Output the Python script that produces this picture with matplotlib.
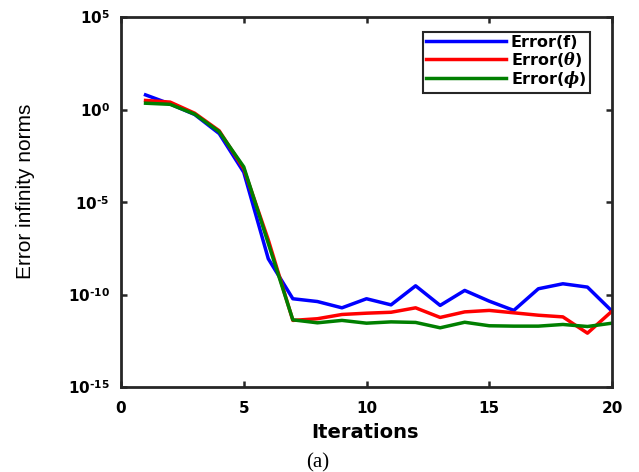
import matplotlib
matplotlib.use("Agg")
import matplotlib.pyplot as plt
import numpy as np
from matplotlib.ticker import FixedLocator, NullLocator

plt.rcParams['mathtext.fontset'] = 'custom'
plt.rcParams['mathtext.rm'] = 'DejaVu Sans:bold'
plt.rcParams['mathtext.bf'] = 'DejaVu Sans:bold'
plt.rcParams['mathtext.it'] = 'DejaVu Serif:bold:italic'

iterations = list(range(1, 21))
log_err_f = [0.79, 0.30, -0.27, -1.30, -3.39, -8.07, -10.23, -10.38, -10.72, -10.23,
             -10.56, -9.53, -10.59, -9.78, -10.36, -10.86, -9.69, -9.42, -9.60, -10.90]
log_err_theta = [0.49, 0.40, -0.20, -1.15, -3.20, -7.05, -11.40, -11.31, -11.08, -11.01,
                 -10.96, -10.72, -11.24, -10.94, -10.86, -10.99, -11.12, -11.21, -12.09, -10.90]
log_err_phi = [0.34, 0.28, -0.25, -1.20, -3.10, -7.24, -11.37, -11.53, -11.40, -11.55,
               -11.48, -11.51, -11.80, -11.50, -11.69, -11.71, -11.71, -11.62, -11.73, -11.55]
labels = ['Error(f)', r'Error($\theta$)', r'Error($\phi$)']
colors = ['#0000ff', '#ff0000', '#007f00']
ytick_exps = [5, 0, -5, -10, -15]
xticks = [0, 5, 10, 15, 20]

fig = plt.figure(figsize=(6.39, 4.72), dpi=100)
ax = fig.add_axes([121/639, 1-387/472, (612-121)/639, (387-17)/472])

for vals, lab, col in zip([log_err_f, log_err_theta, log_err_phi], labels, colors):
    ax.plot(iterations, 10.0**np.array(vals), color=col, lw=2.5, label=lab)

ax.set_yscale('log')
ax.set_ylim(1e-15, 1e5)
ax.set_xlim(0, 20)
ax.yaxis.set_major_locator(FixedLocator([10.0**e for e in ytick_exps]))
ax.yaxis.set_minor_locator(NullLocator())
ax.set_yticklabels([r'$10^{%s}$' % (str(e).replace('-', r'\text{-}')) for e in ytick_exps],
                   fontsize=11)
ax.set_xticks(xticks)
ax.set_xticklabels([str(t) for t in xticks], fontsize=11, fontweight='bold', family='DejaVu Sans')

for s in ax.spines.values():
    s.set_linewidth(2.0)
    s.set_color('#262626')
ax.tick_params(direction='in', length=4, width=1.8, top=True, right=True, color='#262626')
ax.tick_params(axis='x', pad=10)
ax.tick_params(axis='y', pad=8)

ax.set_xlabel('Iterations', fontsize=14, fontweight='bold', family='DejaVu Sans', va='center')
ax.xaxis.set_label_coords((365-121)/491, (387-432)/370)
ax.set_ylabel('Error infinity norms', fontsize=15,
              family=['Liberation Sans Narrow', 'Liberation Sans'], va='center')
ax.yaxis.set_label_coords((25.5-121)/491, (387-191.7)/370)

leg = ax.legend(loc='upper right', bbox_to_anchor=((590-121)/491, 1-(31.7-17)/370),
                fancybox=False, framealpha=1, edgecolor='#262626', handlelength=5.0,
                prop={'family': 'DejaVu Sans', 'weight': 'bold', 'size': 11.5},
                borderpad=0.2, labelspacing=0.0, handletextpad=0.3, borderaxespad=0)
leg.get_frame().set_linewidth(1.5)

fig.text(318/639, 1-463/472, '(a)', ha='center', va='center', fontsize=15,
         family='Liberation Serif')

fig.savefig('out.png', dpi=100)
